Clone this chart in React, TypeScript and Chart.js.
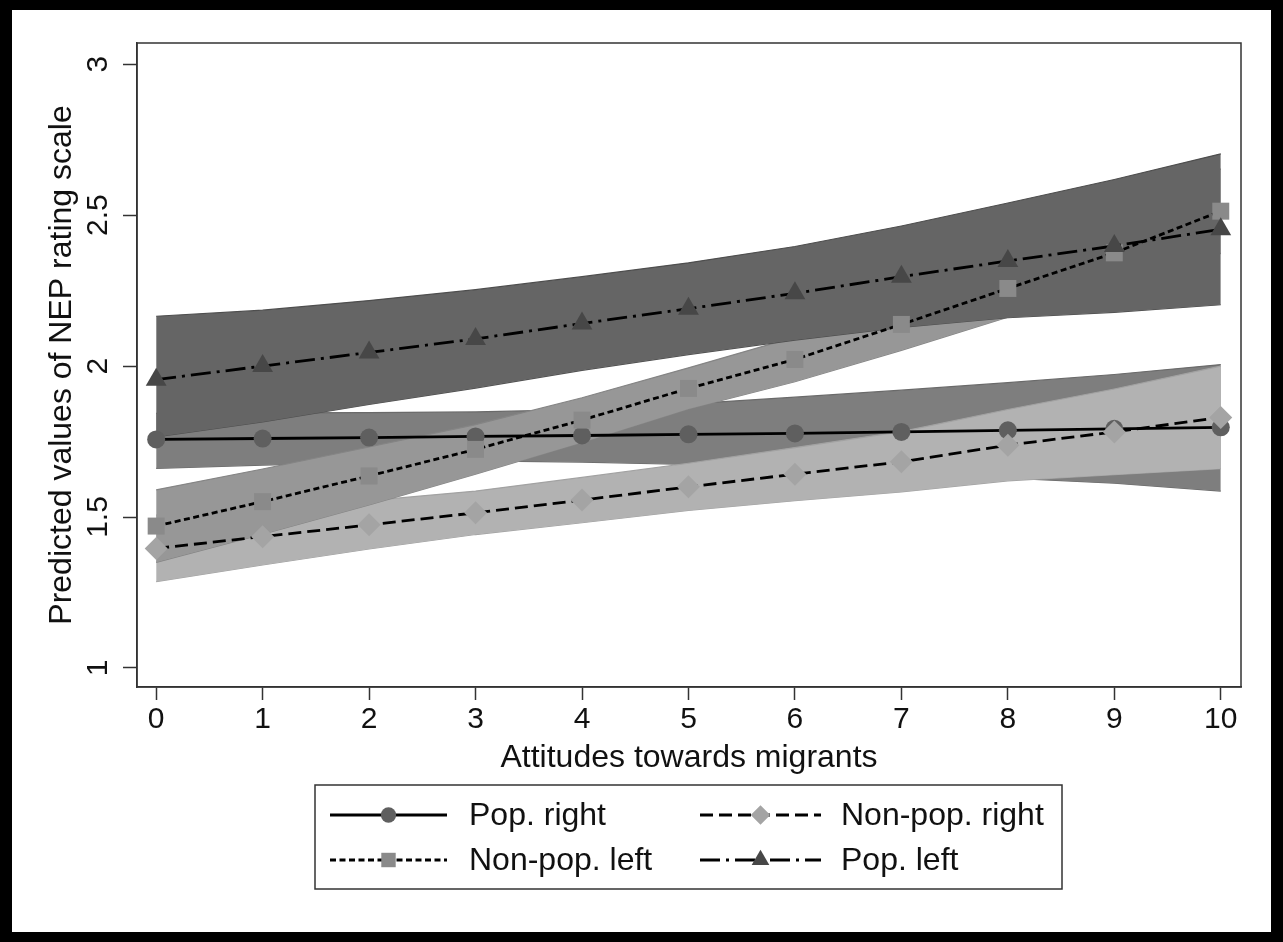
import React, { useEffect, useRef } from 'react';
import { Chart, registerables } from 'chart.js';

Chart.register(...registerables);

// ---------------- data ----------------
const xValues = [0, 1, 2, 3, 4, 5, 6, 7, 8, 9, 10];
const xTicks = [0, 1, 2, 3, 4, 5, 6, 7, 8, 9, 10];
const yTicks = [1, 1.5, 2, 2.5, 3];

const seriesLabels = ['Pop. right', 'Non-pop. right', 'Non-pop. left', 'Pop. left'];

const popRight = [1.757, 1.760, 1.763, 1.767, 1.770, 1.774, 1.777, 1.782, 1.787, 1.792, 1.797];
const popRightUpper = [1.843, 1.845, 1.846, 1.848, 1.856, 1.875, 1.897, 1.920, 1.945, 1.972, 2.005];
const popRightLower = [1.661, 1.672, 1.680, 1.686, 1.682, 1.674, 1.657, 1.644, 1.629, 1.612, 1.586];

const nonPopRight = [1.396, 1.435, 1.474, 1.514, 1.556, 1.600, 1.642, 1.683, 1.738, 1.782, 1.830];
const nonPopRightUpper = [1.506, 1.529, 1.554, 1.586, 1.631, 1.678, 1.730, 1.783, 1.856, 1.924, 2.000];
const nonPopRightLower = [1.286, 1.341, 1.394, 1.442, 1.481, 1.522, 1.554, 1.583, 1.620, 1.640, 1.660];

const nonPopLeft = [1.470, 1.551, 1.636, 1.724, 1.821, 1.926, 2.022, 2.138, 2.257, 2.375, 2.513];
const nonPopLeftUpper = [1.590, 1.659, 1.732, 1.806, 1.895, 1.994, 2.096, 2.224, 2.352, 2.495, 2.653];
const nonPopLeftLower = [1.350, 1.443, 1.540, 1.642, 1.747, 1.858, 1.948, 2.052, 2.162, 2.255, 2.373];

const popLeft = [1.955, 2.000, 2.045, 2.090, 2.141, 2.190, 2.241, 2.296, 2.348, 2.398, 2.453];
const popLeftUpper = [2.165, 2.185, 2.217, 2.253, 2.296, 2.342, 2.396, 2.464, 2.540, 2.618, 2.703];
const popLeftLower = [1.765, 1.815, 1.873, 1.927, 1.986, 2.038, 2.086, 2.128, 2.160, 2.178, 2.203];

// ---------------- styling ----------------
const FONT = '"Liberation Sans", Arial, Helvetica, sans-serif';
const TEXT = '#111111';
const AXIS = '#333333';

const pts = (arr: number[]) => xValues.map((x, i) => ({ x, y: arr[i] }));

function drawMarker(ctx: CanvasRenderingContext2D, style: string, x: number, y: number, r: number, color: string) {
  ctx.save();
  ctx.fillStyle = color;
  ctx.beginPath();
  if (style === 'circle') {
    ctx.arc(x, y, r, 0, Math.PI * 2);
  } else if (style === 'rect') {
    const s = r * Math.SQRT1_2;
    ctx.rect(x - s, y - s, 2 * s, 2 * s);
  } else if (style === 'rectRot') {
    ctx.moveTo(x, y - r);
    ctx.lineTo(x + r, y);
    ctx.lineTo(x, y + r);
    ctx.lineTo(x - r, y);
    ctx.closePath();
  } else if (style === 'triangle') {
    let a = 0;
    ctx.moveTo(x + Math.sin(a) * r, y - Math.cos(a) * r);
    a += (2 * Math.PI) / 3;
    ctx.lineTo(x + Math.sin(a) * r, y - Math.cos(a) * r);
    a += (2 * Math.PI) / 3;
    ctx.lineTo(x + Math.sin(a) * r, y - Math.cos(a) * r);
    ctx.closePath();
  }
  ctx.fill();
  ctx.restore();
}

const framePlugin = {
  id: 'plotFrame',
  afterDatasetsDraw(chart: any) {
    const { ctx, chartArea } = chart;
    ctx.save();
    ctx.strokeStyle = AXIS;
    ctx.lineWidth = 1.5;
    ctx.strokeRect(chartArea.left, chartArea.top, chartArea.right - chartArea.left, chartArea.bottom - chartArea.top);
    ctx.restore();
  },
};

const legendPlugin = {
  id: 'stataLegend',
  afterDraw(chart: any) {
    const ctx: CanvasRenderingContext2D = chart.ctx;
    const items = chart.data.datasets.filter((d: any) => d.isSeries);
    const box = { left: 303, top: 775, width: 747, height: 104 };
    ctx.save();
    ctx.fillStyle = '#ffffff';
    ctx.fillRect(box.left, box.top, box.width, box.height);
    ctx.strokeStyle = AXIS;
    ctx.lineWidth = 1.5;
    ctx.strokeRect(box.left, box.top, box.width, box.height);
    const cols = [
      { x0: 318, x1: 435, tx: 457 },
      { x0: 688, x1: 809, tx: 829 },
    ];
    const rows = [805, 850];
    items.forEach((d: any, i: number) => {
      const c = cols[i % 2];
      const y = rows[Math.floor(i / 2)];
      ctx.save();
      ctx.strokeStyle = d.borderColor;
      ctx.lineWidth = d.borderWidth;
      ctx.setLineDash(d.borderDash || []);
      ctx.beginPath();
      ctx.moveTo(c.x0, y);
      ctx.lineTo(c.x1, y);
      ctx.stroke();
      ctx.restore();
      drawMarker(ctx, d.pointStyle, (c.x0 + c.x1) / 2, y, d.pointRadius * 0.85, d.pointBackgroundColor);
      ctx.fillStyle = TEXT;
      ctx.font = `32px ${FONT}`;
      ctx.textBaseline = 'middle';
      ctx.textAlign = 'left';
      ctx.fillText(d.label, c.tx, y + 1);
    });
    ctx.restore();
  },
};

export default function App() {
  const ref = useRef<HTMLCanvasElement>(null);

  useEffect(() => {
    const canvas = ref.current;
    if (!canvas) return;

    const band = (name: string, upper: number[], lower: number[], fill: string, edge: string, order: number) => [
      {
        label: name + ' upper',
        data: pts(upper),
        borderColor: edge,
        borderWidth: 1.2,
        backgroundColor: fill,
        fill: '+1',
        pointRadius: 0,
        order,
      },
      {
        label: name + ' lower',
        data: pts(lower),
        borderColor: edge,
        borderWidth: 1.2,
        backgroundColor: fill,
        fill: false,
        pointRadius: 0,
        order,
      },
    ];

    const series = (label: string, data: number[], dash: number[], style: string, radius: number, color: string, order: number) => ({
      label,
      data: pts(data),
      isSeries: true,
      borderColor: '#000000',
      borderWidth: 2.8,
      borderDash: dash,
      fill: false,
      pointStyle: style,
      pointRadius: radius,
      pointBackgroundColor: color,
      pointBorderColor: color,
      pointBorderWidth: 0,
      order,
    });

    const chart = new Chart(canvas, {
      type: 'line',
      data: {
        datasets: [
          series(seriesLabels[0], popRight, [], 'circle', 9, '#5f5f5f', 3),
          series(seriesLabels[1], nonPopRight, [13, 6], 'rectRot', 11.5, '#a4a4a4', 2),
          series(seriesLabels[2], nonPopLeft, [6, 3.5], 'rect', 12, '#8a8a8a', 1),
          series(seriesLabels[3], popLeft, [20, 6, 3, 6], 'triangle', 12, '#474747', 0),
          ...band('Pop. right CI', popRightUpper, popRightLower, '#7e7e7e', '#6a6a6a', 14),
          ...band('Non-pop. right CI', nonPopRightUpper, nonPopRightLower, '#b2b2b2', '#a2a2a2', 13),
          ...band('Non-pop. left CI', nonPopLeftUpper, nonPopLeftLower, '#979797', '#858585', 12),
          ...band('Pop. left CI', popLeftUpper, popLeftLower, '#656565', '#4e4e4e', 11),
        ] as any,
      },
      options: {
        responsive: false,
        animation: false,
        devicePixelRatio: 1,
        layout: { padding: { top: 33, right: 30, left: 0, bottom: 155 } },
        elements: { line: { tension: 0 } },
        plugins: {
          legend: { display: false },
          tooltip: { enabled: false },
        },
        scales: {
          x: {
            type: 'linear',
            min: -0.18,
            max: 10.19,
            afterBuildTicks: (scale: any) => {
              scale.ticks = xTicks.map((v) => ({ value: v }));
            },
            afterFit: (scale: any) => {
              scale.height = 90;
            },
            ticks: {
              font: { family: FONT, size: 30 },
              color: TEXT,
              padding: 2,
              maxRotation: 0,
              minRotation: 0,
              callback: (v: any) => String(v),
            },
            grid: {
              drawOnChartArea: false,
              drawTicks: true,
              tickLength: 13,
              tickColor: AXIS,
              tickWidth: 1.5,
            } as any,
            border: { display: true, color: AXIS, width: 1.5 },
            title: {
              display: true,
              text: 'Attitudes towards migrants',
              font: { family: FONT, size: 32 },
              color: TEXT,
              padding: { top: 0, bottom: 0 },
            },
          },
          y: {
            type: 'linear',
            min: 0.937,
            max: 3.07,
            afterBuildTicks: (scale: any) => {
              scale.ticks = yTicks.map((v) => ({ value: v }));
            },
            afterFit: (scale: any) => {
              scale.width = 125;
            },
            ticks: {
              font: { family: FONT, size: 30 },
              color: TEXT,
              padding: 3,
              minRotation: 90,
              maxRotation: 90,
              crossAlign: 'center',
              callback: (v: any) => String(v),
            },
            grid: {
              drawOnChartArea: false,
              drawTicks: true,
              tickLength: 14,
              tickColor: AXIS,
              tickWidth: 1.5,
            } as any,
            border: { display: true, color: AXIS, width: 1.5 },
            title: {
              display: true,
              text: 'Predicted values of NEP rating scale',
              font: { family: FONT, size: 32 },
              color: TEXT,
              padding: { top: 31, bottom: 0 },
            },
          },
        },
      } as any,
      plugins: [framePlugin, legendPlugin],
    });

    return () => chart.destroy();
  }, []);

  return (
    <div style={{ position: 'fixed', left: 0, top: 0, width: 1283, height: 942, background: '#000000' }}>
      <div style={{ position: 'absolute', left: 12, top: 10, width: 1259, height: 922, background: '#ffffff' }}>
        <canvas ref={ref} width={1259} height={922} style={{ display: 'block', width: 1259, height: 922 }} />
      </div>
    </div>
  );
}
